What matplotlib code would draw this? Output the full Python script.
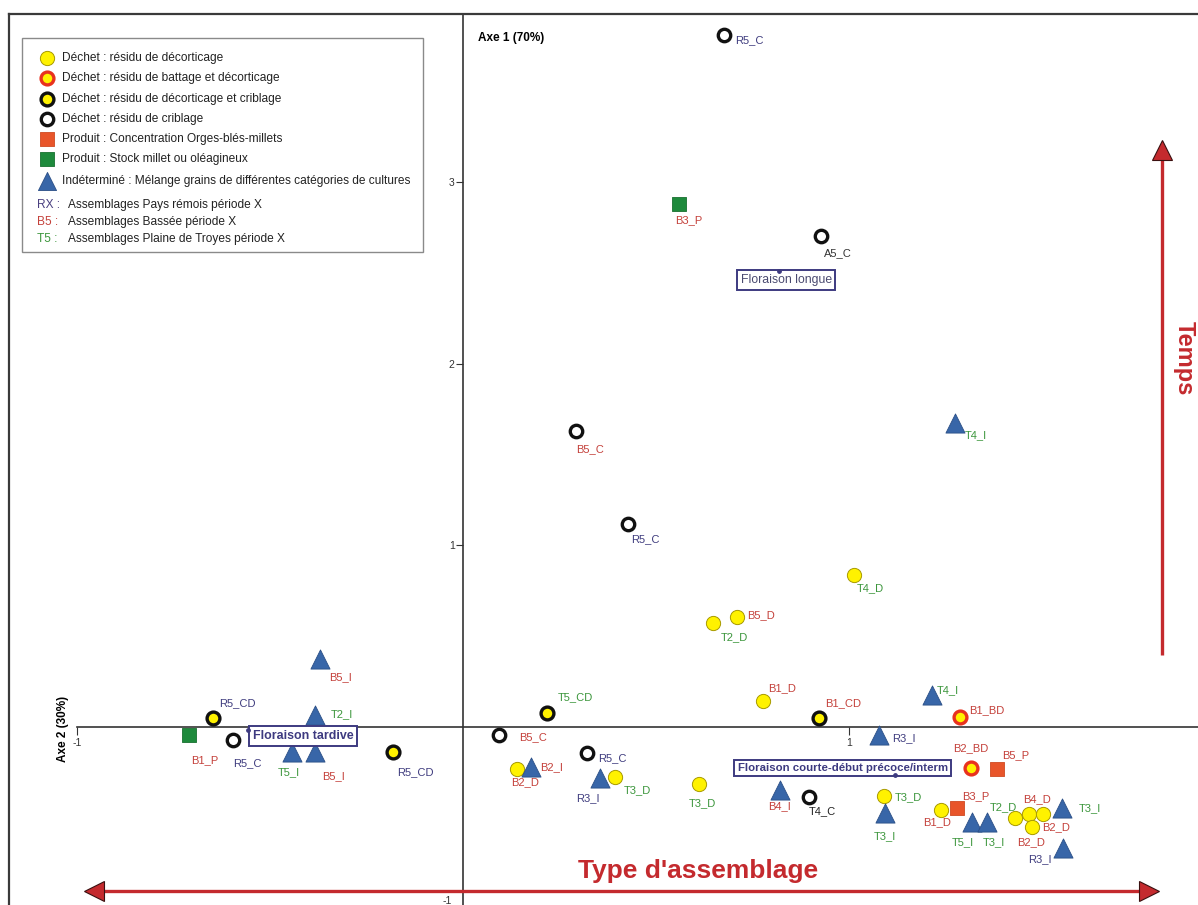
#!/usr/bin/env python
# -*- coding: utf-8 -*-

""" Carpological assemblages : correspondence analysis plane """

import matplotlib.pyplot as plt
from matplotlib.patches import Rectangle

plt.rcParams['font.family'] = ['Liberation Sans', 'DejaVu Sans']
plt.rcParams['axes.unicode_minus'] = False

# Assemblages (label, type, coordinates on both axes)
PT_LABEL = ["R5_C", "B3_P", "A5_C", "B5_C", "R5_C", "T4_I", "T4_D", "B5_D",
            "T2_D", "B5_I", "T2_I", "R5_CD", "B1_P", "R5_C", "T5_I", "B5_I",
            "R5_CD", "B5_C", "T5_CD", "B2_D", "B2_I", "R5_C", "R3_I", "T3_D",
            "T3_D", "B1_D", "B1_CD", "B4_I", "T4_C", "R3_I", "T3_D", "T3_I",
            "T4_I", "B1_BD", "B2_BD", "B5_P", "B3_P", "B1_D", "T5_I", "T3_I",
            "T2_D", "B4_D", "B2_D", "B2_D", "T3_I", "R3_I"]
PT_TYPE = ["C", "Pg", "C", "C", "C", "I", "D", "D",
           "D", "I", "I", "CD", "Pg", "C", "I", "I",
           "CD", "C", "CD", "D", "I", "C", "I", "D",
           "D", "D", "CD", "I", "C", "I", "D", "I",
           "I", "BD", "BD", "Po", "Po", "D", "I", "I",
           "D", "D", "D", "D", "I", "I"]
PT_X = [0.676, 0.560, 0.927, 0.293, 0.427, 1.275, 1.013, 0.710,
        0.648, -0.370, -0.383, -0.648, -0.710, -0.596, -0.443, -0.383,
        -0.181, 0.093, 0.218, 0.140, 0.176, 0.321, 0.355, 0.394,
        0.611, 0.777, 0.922, 0.821, 0.896, 1.078, 1.091, 1.093,
        1.215, 1.288, 1.316, 1.383, 1.280, 1.238, 1.319, 1.358,
        1.430, 1.466, 1.503, 1.474, 1.552, 1.554]
PT_Y = [3.808, 2.878, 2.702, 1.629, 1.117, 1.673, 0.837, 0.605,
        0.572, 0.374, 0.066, 0.050, -0.044, -0.072, -0.138, -0.138,
        -0.138, -0.044, 0.077, -0.231, -0.220, -0.143, -0.281, -0.275,
        -0.314, 0.143, 0.050, -0.347, -0.385, -0.044, -0.380, -0.473,
        0.176, 0.055, -0.226, -0.231, -0.446, -0.457, -0.523, -0.523,
        -0.501, -0.479, -0.479, -0.550, -0.446, -0.666]

# Flowering variables projected on the plane
FLOWER_LABEL = ["Floraison tardive", "Floraison longue",
                "Floraison courte-début précoce/interm"]
FLOWER_X = [-0.557, 0.819, 1.119]
FLOWER_Y = [-0.017, 2.510, -0.264]

# Legend texts
TYPE_ORDER = ["D", "BD", "CD", "C", "Po", "Pg", "I"]
TYPE_TEXT = ["Déchet : résidu de décorticage",
             "Déchet : résidu de battage et décorticage",
             "Déchet : résidu de décorticage et criblage",
             "Déchet : résidu de criblage",
             "Produit : Concentration Orges-blés-millets",
             "Produit : Stock millet ou oléagineux",
             "Indéterminé : Mélange grains de différentes catégories de cultures"]
REGION_CODE = ["RX :", "B5 :", "T5 :"]
REGION_TEXT = ["Assemblages Pays rémois période X",
               "Assemblages Bassée période X",
               "Assemblages Plaine de Troyes période X"]

# ---- layout / style ----
LABEL_OFFSET = [(25, 5), (10, 16), (17, 17), (14, 18), (18, 15), (21, 12),
                (16, 13), (24, -2), (21, 14), (20, 18), (27, -1), (25, -15),
                (16, 25), (14, 23), (-3, 20), (18, 24), (22, 20), (34, 2),
                (28, -16), (8, 13), (21, 0), (25, 5), (-12, 20), (22, 13),
                (4, 19), (19, -13), (24, -15), (0, 16), (14, 14), (25, 3),
                (24, 1), (0, 23), (16, -5), (27, -7), (0, -20), (19, -14),
                (19, -12), (-4, 12), (-9, 20), (7, 20), (-12, -11), (8, -15),
                (13, 13), (-1, 15), (28, 0), (-23, 11)]
FLOWER_OFFSET = [(55, 6), (7, 9), (-52, -7)]
FLOWER_BOLD = [True, False, True]
FLOWER_SIZE = [8.9, 8.8, 8.2]

STYLE = {
    "D": dict(marker="o", s=105, c="#fff200", edgecolors="#a89a00", linewidths=0.7),
    "BD": dict(marker="o", s=85, c="#fff200", edgecolors="#e8321e", linewidths=2.4),
    "CD": dict(marker="o", s=85, c="#fff200", edgecolors="#111111", linewidths=2.4),
    "C": dict(marker="o", s=80, c="white", edgecolors="#111111", linewidths=2.4),
    "Po": dict(marker="s", s=110, c="#e8552a", edgecolors="#cf4a22", linewidths=0.6),
    "Pg": dict(marker="s", s=110, c="#1e8a3c", edgecolors="#187030", linewidths=0.6),
    "I": dict(marker="^", s=190, c="#3866a8", edgecolors="#2b4f86", linewidths=0.6),
}
INK = {"R": "#3f3c7e", "B": "#c4403a", "T": "#3c963c", "A": "#333333"}
INK_OVERRIDE = {"T4_C": "#222222"}
RED = "#c42a2e"
NAVY = "#3d3a80"

W, H = 1198, 905
X0, XU = 463, 386      # pixel of x=0, pixels per unit
Y0, YU = 727, 181.7    # pixel of y=0, pixels per unit


def main() -> None:
    """ Main function """
    fig = plt.figure(figsize=(W / 100, H / 100), dpi=100)
    ax = fig.add_axes([0, 0, 1, 1])
    ax.set_xlim(-X0 / XU, (W - X0) / XU)
    ax.set_ylim(-(H - Y0) / YU, Y0 / YU)

    # axes crossing at the origin
    for side in ["top", "right"]:
        ax.spines[side].set_visible(False)
    ax.spines["left"].set_position(("data", 0))
    ax.spines["bottom"].set_position(("data", 0))
    ax.spines["left"].set_color("#333333")
    ax.spines["bottom"].set_color("#333333")
    ax.spines["left"].set_linewidth(1.2)
    ax.spines["bottom"].set_linewidth(1.2)
    ax.spines["bottom"].set_bounds(-1, (W - X0) / XU)
    ax.spines["left"].set_bounds(-(H - Y0) / YU, (Y0 - 14) / YU)
    ax.set_xticks([-1, 1])
    ax.set_yticks([1, 2, 3])
    ax.tick_params(axis="y", direction="out", length=5, pad=1,
                   labelsize=7.5, colors="#333333")
    ax.tick_params(axis="x", direction="out", length=6, pad=2,
                   labelsize=7.5, colors="#333333")
    ax.text(-0.03, (Y0 - 901) / YU, "-1", ha="right", va="center",
            fontsize=7.5, color="#333333")

    ax.text(0.04, (Y0 - 38) / YU, "Axe 1 (70%)", fontsize=8.5,
            fontweight="bold", ha="left", va="center")
    ax.text((63 - X0) / XU, (Y0 - 729) / YU, "Axe 2 (30%)", fontsize=8.5,
            fontweight="bold", rotation=90, ha="center", va="center")

    # points, by type
    for kind in TYPE_ORDER:
        xs = [x for x, t in zip(PT_X, PT_TYPE) if t == kind]
        ys = [y for y, t in zip(PT_Y, PT_TYPE) if t == kind]
        z = 5 if kind == "I" else 4
        ax.scatter(xs, ys, zorder=z, **STYLE[kind])

    for lab, x, y, (dx, dy) in zip(PT_LABEL, PT_X, PT_Y, LABEL_OFFSET):
        ax.annotate(lab, (x, y), xytext=(dx, -dy), textcoords="offset pixels",
                    ha="center", va="center", fontsize=8, zorder=6,
                    color=INK_OVERRIDE.get(lab, INK[lab[0]]))

    # flowering variables
    for lab, x, y, (dx, dy), bold, size in zip(FLOWER_LABEL, FLOWER_X,
                                               FLOWER_Y, FLOWER_OFFSET,
                                               FLOWER_BOLD, FLOWER_SIZE):
        ax.annotate(lab, (x, y), xytext=(dx, -dy), textcoords="offset pixels",
                    ha="center", va="center", zorder=6, fontsize=size,
                    fontweight="bold" if bold else "normal",
                    color=NAVY if bold else "#4a4a70",
                    bbox=dict(boxstyle="square,pad=0.3", fc="white",
                              ec=NAVY, lw=1.4))
    ax.scatter(FLOWER_X, FLOWER_Y, s=6, c=NAVY, zorder=7)

    # overlay in pixel coordinates: frame, legend, arrows
    ov = fig.add_axes([0, 0, 1, 1], facecolor="none")
    ov.set_xlim(0, W)
    ov.set_ylim(H, 0)
    ov.axis("off")
    ov.plot([9, W], [14, 14], color="#3a3a3a", lw=1.6)
    ov.plot([9, 9], [14, H], color="#3a3a3a", lw=1.6)

    ov.add_patch(Rectangle((22, 38), 401, 214, fc="white", ec="#8a8a8a",
                           lw=1.0, zorder=2))
    rows = [58, 78, 99, 119, 139, 159, 181]
    for kind, txt, ry in zip(TYPE_ORDER, TYPE_TEXT, rows):
        st = dict(STYLE[kind])
        if kind == "I":
            st["s"] = 170
        ov.scatter([47], [ry], zorder=3, **st)
        ov.text(62, ry, txt, fontsize=8.6, color="#222222",
                ha="left", va="center", zorder=3)
    for code, txt, ry in zip(REGION_CODE, REGION_TEXT, [205, 222, 239]):
        ov.text(37, ry, code, fontsize=8.6,
                color="#4a4080" if code[0] == "R" else INK[code[0]],
                ha="left", va="center", zorder=3)
        ov.text(68, ry, txt, fontsize=8.6, color="#222222",
                ha="left", va="center", zorder=3)

    # time arrow
    ov.plot([1162, 1162], [655, 152], color=RED, lw=2.4,
            solid_capstyle="butt")
    ov.plot([1162], [150], marker="^", ms=14, mfc=RED, mec="#3a1010", mew=0.8)
    ov.text(1184, 358, "Temps", rotation=-90, fontsize=17, fontweight="bold",
            color=RED, ha="center", va="center")

    # assemblage type arrow
    ov.plot([96, 1148], [891, 891], color=RED, lw=2.4, solid_capstyle="butt")
    ov.plot([94], [891], marker="<", ms=14, mfc=RED, mec="#3a1010", mew=0.8)
    ov.plot([1149], [891], marker=">", ms=14, mfc=RED, mec="#3a1010", mew=0.8)
    ov.text(698, 871, "Type d'assemblage", fontsize=19, fontweight="bold",
            color=RED, ha="center", va="center")

    fig.savefig("out.png", dpi=100)


if __name__ == "__main__":
    main()
